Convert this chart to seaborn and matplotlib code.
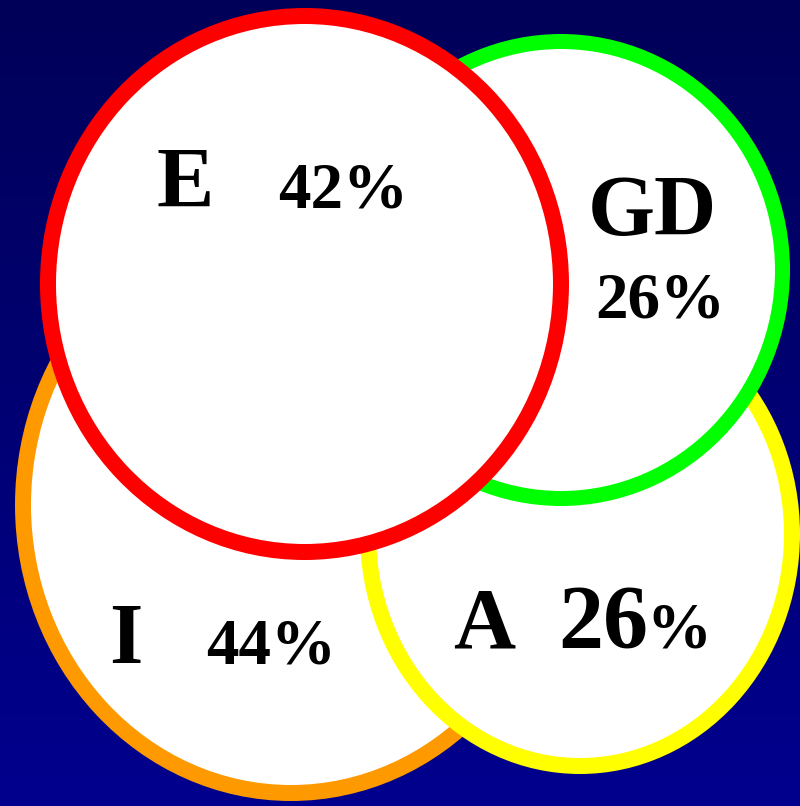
import numpy as np
import matplotlib
matplotlib.use("Agg")
import matplotlib.pyplot as plt
from matplotlib.patches import Ellipse
import seaborn as sns

sns.set_theme(style="white")
plt.rcParams['font.family'] = ['Liberation Serif', 'DejaVu Serif']

# ---- data ----
labels = ["I", "A", "GD", "E"]
percents = [44, 26, 26, 42]
ring_colors = ["#FF9900", "#FFFF00", "#00FF00", "#FF0000"]

# ---- layout (pixels, y downward) ----
centers = [(291, 505), (580, 534), (561, 270), (304.5, 284)]
radii = [(268, 288), (212, 232), (221.5, 228.5), (256.5, 268)]
ring_px = [16, 16, 15, 16]

W, H = 800, 806
fig = plt.figure(figsize=(W / 100, H / 100), dpi=100)
ax = fig.add_axes([0, 0, 1, 1])
ax.set_xlim(0, W)
ax.set_ylim(H, 0)
ax.axis("off")

# background gradient
top = np.array([0, 0, 88]) / 255
bot = np.array([0, 0, 142]) / 255
t = np.linspace(0, 1, 256)[:, None, None]
grad = top * (1 - t) + bot * t
ax.imshow(grad, extent=[0, W, H, 0], aspect="auto", zorder=0)

for i, (c, (rx, ry), col, lw) in enumerate(zip(centers, radii, ring_colors, ring_px)):
    e = Ellipse(c, 2 * rx, 2 * ry, facecolor="white", edgecolor=col,
                linewidth=lw * 72 / 100, zorder=1 + i)
    ax.add_patch(e)

pt = 72 / 100
big = 86 * pt
mid = 65 * pt
A_big = 90 * pt
z = 10
# E 42%
ax.text(157, 207, labels[3], fontsize=big, fontweight="bold", color="black", va="baseline", ha="left", zorder=z)
ax.text(278, 207, f"{percents[3]}%", fontsize=mid, fontweight="bold", color="black", va="baseline", ha="left", zorder=z)
# GD 26%
ax.text(652, 235, labels[2], fontsize=big, fontweight="bold", color="black", va="baseline", ha="center", zorder=z)
ax.text(660, 317, f"{percents[2]}%", fontsize=mid, fontweight="bold", color="black", va="baseline", ha="center", zorder=z)
# I 44%
ax.text(109, 663, labels[0], fontsize=big, fontweight="bold", color="black", va="baseline", ha="left", zorder=z)
ax.text(206, 663, f"{percents[0]}%", fontsize=mid, fontweight="bold", color="black", va="baseline", ha="left", zorder=z)
# A 26%
ax.text(453, 648, labels[1], fontsize=big, fontweight="bold", color="black", va="baseline", ha="left", zorder=z)
ax.text(558, 648, f"{percents[1]}", fontsize=A_big, fontweight="bold", color="black", va="baseline", ha="left", zorder=z)
ax.text(646, 648, "%", fontsize=mid, fontweight="bold", color="black", va="baseline", ha="left", zorder=z)

fig.savefig("out.png", dpi=100)
